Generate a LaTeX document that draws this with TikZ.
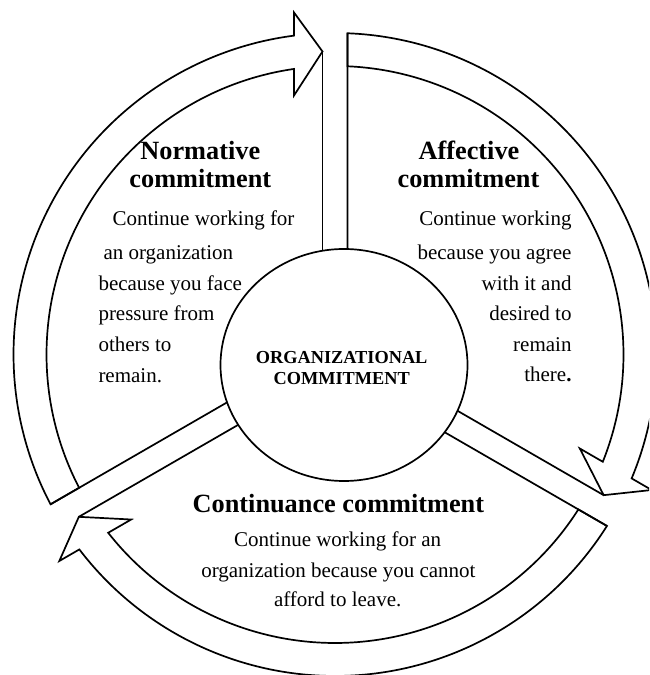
\documentclass[tikz,border=0pt]{standalone}
\usepackage{fontspec}
\setmainfont{Liberation Serif}
\usetikzlibrary{shapes.geometric}
\tikzset{
  band/.style={draw=black, line width=1.7pt, fill=white, line join=miter},
  spoke/.style={draw=black, line width=1.7pt},
  ttl/.style={anchor=base, inner sep=0pt, font=\fontsize{26.3}{30}\selectfont\bfseries},
  bodyl/.style={anchor=base west, inner sep=0pt, font=\fontsize{21}{25}\selectfont},
  bodyr/.style={anchor=base east, inner sep=0pt, font=\fontsize{21}{25}\selectfont},
  bodyc/.style={anchor=base, inner sep=0pt, font=\fontsize{21}{25}\selectfont},
  ctr/.style={anchor=base, inner sep=0pt, font=\fontsize{18.3}{21}\selectfont\bfseries},
  core/.style={draw=black, line width=1.7pt, fill=white, ellipse, inner sep=0pt,
    minimum width=247pt, minimum height=232pt},
}
\begin{document}
\begin{tikzpicture}[x=1pt,y=1pt]
\useasboundingbox (0,0) rectangle (649,675);
\clip (0,0) rectangle (649,675);
\fill[white] (0,0) rectangle (649,675);
\begin{scope}[shift={(335,320.5)}]
  % three clockwise curved arrows
  \foreach \a in {90,-30,210} {
    \pgfmathsetmacro\e{\a-120}
    \draw[band] (\a-2.228:321.5pt)
      arc[start angle=\a-2.228, end angle=\e+7.327, radius=321.5pt]
      -- ({342*cos(\e)-41*sin(\e)},{342*sin(\e)+41*cos(\e)})
      -- ({303*cos(\e)-12.5*sin(\e)},{303*sin(\e)+12.5*cos(\e)})
      -- ({259*cos(\e)-41*sin(\e)},{259*sin(\e)+41*cos(\e)})
      -- (\e+8.17:288.5pt)
      arc[start angle=\e+8.17, end angle=\a-2.483, radius=288.5pt]
      -- cycle;
  }
  % spokes
  \foreach \a in {90,-30,210} {
    \draw[spoke] (\a-2.228:321.5pt) -- ({60*cos(\a)+12.5*sin(\a)},{60*sin(\a)-12.5*cos(\a)});
    \draw[spoke] ({303*cos(\a)-12.5*sin(\a)},{303*sin(\a)+12.5*cos(\a)})
      -- ({60*cos(\a)-12.5*sin(\a)},{60*sin(\a)+12.5*cos(\a)});
  }
\end{scope}
\node[core] (hub) at (344,310) {};
\node[ctr] (hub1) at (341.7,311) {ORGANIZATIONAL};
\node[ctr] (hub2) at (341.7,290) {COMMITMENT};
% Normative
\node[ttl] (nt1) at (200.3,515) {Normative};
\node[ttl] (nt2) at (200.3,487.3) {commitment};
\node[bodyl] (nb1) at (112.3,449.3) {Continue working for};
\node[bodyl] (nb2) at (103.3,415.7) {an organization};
\node[bodyl] (nb3) at (98.3,384.3) {because you face};
\node[bodyl] (nb4) at (98.3,354) {pressure from};
\node[bodyl] (nb5) at (98.3,323.3) {others to};
\node[bodyl] (nb6) at (98.3,292.7) {remain.};
% Affective
\node[ttl] (at1) at (469,515) {Affective};
\node[ttl] (at2) at (468.5,487.3) {commitment};
\node[bodyr] (ab1) at (571.7,449) {Continue working};
\node[bodyr] (ab2) at (571.7,415.7) {because you agree};
\node[bodyr] (ab3) at (571.7,384.3) {with it and};
\node[bodyr] (ab4) at (571.7,354) {desired to};
\node[bodyr] (ab5) at (571.7,323.3) {remain};
\node[bodyr] (ab6) at (571.7,293.5) {there\textbf{.}};
% Continuance
\node[ttl] (ct1) at (338.4,162) {Continuance commitment};
\node[bodyc] (cb1) at (337.6,128.3) {Continue working for an};
\node[bodyc] (cb2) at (338.4,97.5) {organization because you cannot};
\node[bodyc] (cb3) at (337.7,68) {afford to leave.};
\end{tikzpicture}
\end{document}
